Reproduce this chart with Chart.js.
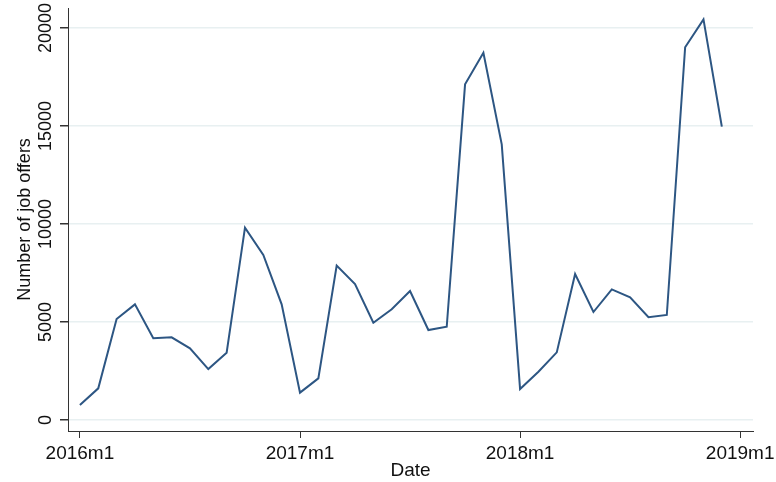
<!DOCTYPE html>
<html>
<head>
<meta charset="utf-8">
<script src="https://cdn.jsdelivr.net/npm/chart.js@4"></script>
<style>
  html, body { margin: 0; padding: 0; background: #fff; }
  #wrap { width: 776px; height: 482px; }
</style>
</head>
<body>
<div id="wrap"><canvas id="myChart" width="776" height="482"></canvas></div>
<script>
// monthly job offers, 2016m1 .. 2018m12
const months = [
  '2016m1','2016m2','2016m3','2016m4','2016m5','2016m6','2016m7','2016m8','2016m9','2016m10','2016m11','2016m12',
  '2017m1','2017m2','2017m3','2017m4','2017m5','2017m6','2017m7','2017m8','2017m9','2017m10','2017m11','2017m12',
  '2018m1','2018m2','2018m3','2018m4','2018m5','2018m6','2018m7','2018m8','2018m9','2018m10','2018m11','2018m12'
]
const offers = [
  770, 1615, 5150, 5900, 4170, 4220, 3655, 2600, 3435, 9810, 8420, 5900,
  1395, 2125, 7875, 6940, 4965, 5650, 6580, 4590, 4760, 17125, 18740, 14065,
  1580, 2465, 3450, 7450, 5510, 6665, 6260, 5240, 5360, 19015, 20440, 14965
]
const xTicks = [0, 12, 24, 36]
const xTickLabels = ['2016m1', '2017m1', '2018m1', '2019m1']
const yTicks = [0, 5000, 10000, 15000, 20000]

const FONT = 'Liberation Sans, Arial, sans-serif'

// y tick labels are vertical in the original, draw them rotated
const yLabels = {
  id: 'yLabels',
  afterDraw(chart) {
    const ctx = chart.ctx
    const y = chart.scales.y
    ctx.save()
    ctx.font = '18px ' + FONT
    ctx.fillStyle = '#111'
    ctx.textAlign = 'center'
    ctx.textBaseline = 'middle'
    yTicks.forEach(v => {
      ctx.save()
      ctx.translate(46, y.getPixelForValue(v))
      ctx.rotate(-Math.PI / 2)
      ctx.fillText(String(v), 0, 0)
      ctx.restore()
    })
    ctx.restore()
  }
}

window.onload = function(){
  const data = {
    datasets: [{
      label: 'Number of job offers',
      data: offers.map((v, i) => ({ x: i, y: v })),
      borderColor: '#2d5683',
      borderWidth: 2,
      pointRadius: 0,
      tension: 0,
      fill: false
    }]
  }

  const config = {
    type: 'line',
    data: data,
    plugins: [yLabels],
    options: {
      responsive: false,
      animation: false,
      layout: { padding: { top: 8, right: 23, left: 0, bottom: 0 } },
      plugins: {
        legend: { display: false },
        tooltip: { enabled: false }
      },
      scales: {
        x: {
          type: 'linear',
          min: -0.65,
          max: 36.7,
          afterBuildTicks: s => { s.ticks = xTicks.map(v => ({ value: v })) },
          afterFit: s => { s.height = 51; s.paddingLeft = 0; s.paddingRight = 0 },
          ticks: {
            callback: v => xTickLabels[xTicks.indexOf(v)],
            font: { family: FONT, size: 19 },
            color: '#111',
            padding: 4,
            maxRotation: 0,
            autoSkip: false
          },
          grid: {
            drawOnChartArea: false,
            drawTicks: true,
            tickLength: 7,
            tickColor: '#333'
          },
          border: { display: true, color: '#333', width: 1 },
          title: {
            display: true,
            text: 'Date',
            font: { family: FONT, size: 19 },
            color: '#111',
            padding: { top: 0, bottom: 0 }
          }
        },
        y: {
          min: -561,
          max: 21020,
          afterBuildTicks: s => { s.ticks = yTicks.map(v => ({ value: v })) },
          afterFit: s => { s.width = 68 },
          ticks: { display: false },
          grid: {
            color: '#e8f0f1',
            lineWidth: 1.5,
            drawTicks: true,
            tickLength: 8,
            tickColor: '#333'
          },
          border: { display: true, color: '#333', width: 1 },
          title: {
            display: true,
            text: 'Number of job offers',
            font: { family: FONT, size: 18 },
            color: '#111',
            padding: { top: 14, bottom: 0 }
          }
        }
      }
    }
  }

  const myChart = new Chart(document.getElementById('myChart'), config)
}
</script>
</body>
</html>
